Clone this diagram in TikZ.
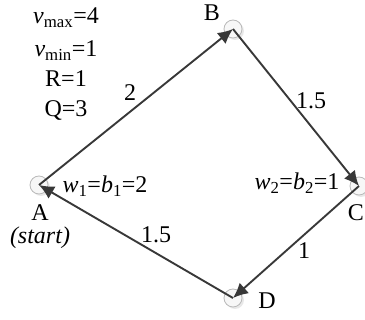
\documentclass[tikz,border=0pt]{standalone}
\usepackage{fontspec}
\setmainfont{Liberation Serif}
\usetikzlibrary{arrows.meta}
\definecolor{edgecol}{HTML}{383838}
\tikzset{
  vertex/.style={circle,minimum size=18pt,inner sep=0pt,draw=gray!55,fill=gray!6,line width=0.8pt},
  vshadow/.style={circle,minimum size=18pt,inner sep=0pt,fill=gray!18},
  edge/.style={draw=edgecol,line width=1.9pt,-{Latex[length=15pt,width=14pt]}},
  lbl/.style={font=\fontsize{24}{28}\selectfont,inner sep=0pt},
}
\begin{document}
\begin{tikzpicture}[x=1pt,y=-1pt]
\useasboundingbox (0,0) rectangle (365,320);
% shadows
\node[vshadow] at (41,187) {};
\node[vshadow] at (235,31) {};
\node[vshadow] at (361,188) {};
\node[vshadow] at (235,300) {};
% vertices
\node[vertex] (A) at (39,185) {};
\node[vertex] (B) at (233,29) {};
\node[vertex] (C) at (359,186) {};
\node[vertex] (D) at (233,298) {};
% edges
\draw[edge] (A.center) -- (B.center);
\draw[edge] (B.center) -- (C.center);
\draw[edge] (C.center) -- (D.center);
\draw[edge] (D.center) -- (A.center);
% vertex labels
\node[lbl] (la) at (40,213) {A};
\node[lbl] (ls) at (40,238) {\textit{(start)}};
\node[lbl] (lb) at (212,13) {B};
\node[lbl] (lc) at (356,213) {C};
\node[lbl] (ld) at (267,301) {D};
% edge weights
\node[lbl] (e1) at (130,93) {2};
\node[lbl] (e2) at (311,101) {1.5};
\node[lbl] (e3) at (304,251) {1};
\node[lbl] (e4) at (156,235) {1.5};
% service labels
\node[lbl,anchor=base] (w1) at (105,193) {\textit{w}\textsubscript{1}=\textit{b}\textsubscript{1}=2};
\node[lbl,anchor=base] (w2) at (297,190) {\textit{w}\textsubscript{2}=\textit{b}\textsubscript{2}=1};
% parameters
\node[lbl,anchor=base] (p1) at (66,24) {\textit{v}\textsubscript{max}=4};
\node[lbl,anchor=base] (p2) at (66,57) {\textit{v}\textsubscript{min}=1};
\node[lbl,anchor=base] (p3) at (66,87) {R=1};
\node[lbl,anchor=base] (p4) at (66,117) {Q=3};
\end{tikzpicture}
\end{document}
